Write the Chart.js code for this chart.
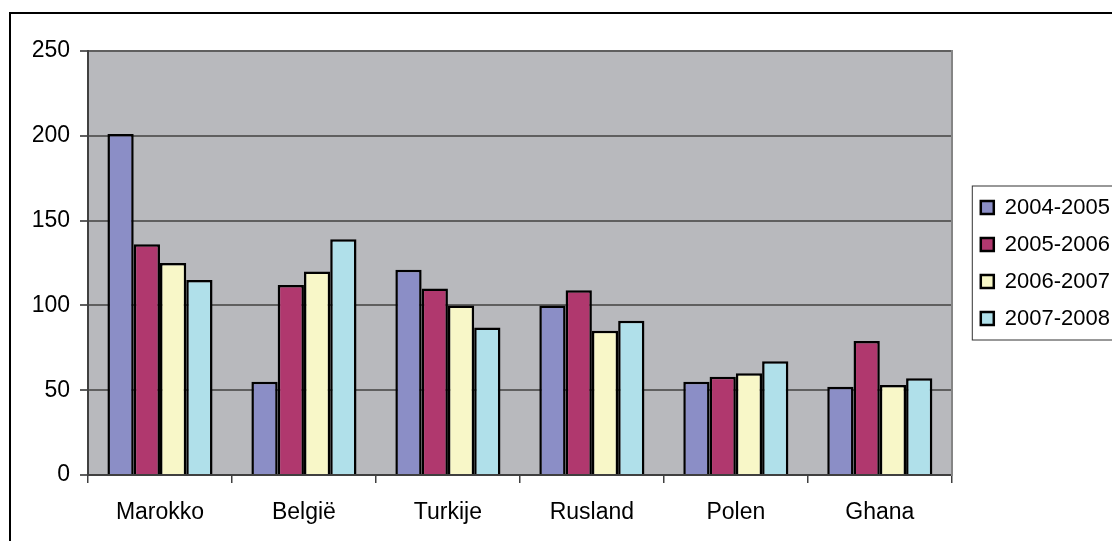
<!DOCTYPE html>
<html>
<head>
<meta charset="utf-8">
<script src="https://cdn.jsdelivr.net/npm/chart.js@4.4.1/dist/chart.umd.min.js"></script>
<style>
  body { margin: 0; background: #fff; overflow: hidden; }
  #frame { position: absolute; left: 9px; top: 12px; width: 1140px; height: 560px; border: 2px solid #000; }
  #chart { display: block; }
</style>
</head>
<body>
<div id="frame"><canvas id="chart" width="1116" height="540"></canvas></div>
<script>
const countries = ['Marokko', 'België', 'Turkije', 'Rusland', 'Polen', 'Ghana'];
const seasons = ['2004-2005', '2005-2006', '2006-2007', '2007-2008'];
const v2004 = [201, 55, 121, 100, 55, 52];
const v2005 = [136, 112, 110, 109, 58, 79];
const v2006 = [125, 120, 100, 85, 60, 53];
const v2007 = [115, 139, 87, 91, 67, 57];
const colors = ['#8b8ec6', '#b0386e', '#f8f7c8', '#b0e0ea'];
const yTicks = [0, 50, 100, 150, 200, 250];

const FONT = 'Arial, "Liberation Sans", sans-serif';

// grey plot area + border round the legend
const plotBg = {
  id: 'plotBg',
  beforeDraw(chart) {
    const { ctx, chartArea: a } = chart;
    ctx.save();
    ctx.fillStyle = '#b8b9bd';
    ctx.fillRect(a.left, a.top, a.right - a.left, a.bottom - a.top);
    ctx.restore();
  },
  afterDraw(chart) {
    const lg = chart.legend;
    if (!lg || !lg.legendHitBoxes.length) return;
    const boxes = lg.legendHitBoxes;
    const top = boxes[0].top - 10.5;
    const bottom = boxes[boxes.length - 1].top + boxes[boxes.length - 1].height + 10.5;
    const ctx = chart.ctx;
    ctx.save();
    ctx.strokeStyle = '#333';
    ctx.lineWidth = 1;
    ctx.strokeRect(lg.left + 6.5, top, chart.width, bottom - top);
    ctx.restore();
  }
};

const datasets = [v2004, v2005, v2006, v2007].map((vals, i) => ({
  label: seasons[i],
  data: vals,
  backgroundColor: colors[i],
  borderColor: '#000',
  borderWidth: 2.5,
  categoryPercentage: 0.73,
  barPercentage: 1.0
}));

new Chart(document.getElementById('chart'), {
  type: 'bar',
  data: { labels: countries, datasets },
  options: {
    responsive: false,
    animation: false,
    devicePixelRatio: 1,
    layout: { padding: { left: 22, top: 37, bottom: 19, right: 7 } },
    plugins: {
      tooltip: { enabled: false },
      legend: {
        position: 'right',
        fullSize: false,
        labels: {
          boxWidth: 13,
          boxHeight: 13,
          padding: 15,
          color: '#000',
          font: { family: FONT, size: 22 }
        }
      }
    },
    scales: {
      x: {
        grid: { drawOnChartArea: false, drawTicks: true, tickLength: 8, color: '#404040', lineWidth: 1.5 },
        border: { color: '#404040', width: 2 },
        ticks: { color: '#000', padding: 16, font: { family: FONT, size: 23 } },
        afterFit(scale) { scale.height = 60; }
      },
      y: {
        min: 0,
        max: 250,
        afterBuildTicks(scale) { scale.ticks = yTicks.map(v => ({ value: v })); },
        grid: { color: '#5f5f5f', lineWidth: 2, tickLength: 8 },
        border: { color: '#404040', width: 2 },
        ticks: { color: '#000', padding: 10, font: { family: FONT, size: 23 } },
        afterFit(scale) { scale.width = 55; }
      },
      y2: {
        position: 'right',
        min: 0,
        max: 250,
        grid: { display: false },
        border: { color: '#858585', width: 2 },
        ticks: { display: false },
        afterFit(scale) { scale.width = 14; }
      }
    }
  },
  plugins: [plotBg]
});
</script>
</body>
</html>
